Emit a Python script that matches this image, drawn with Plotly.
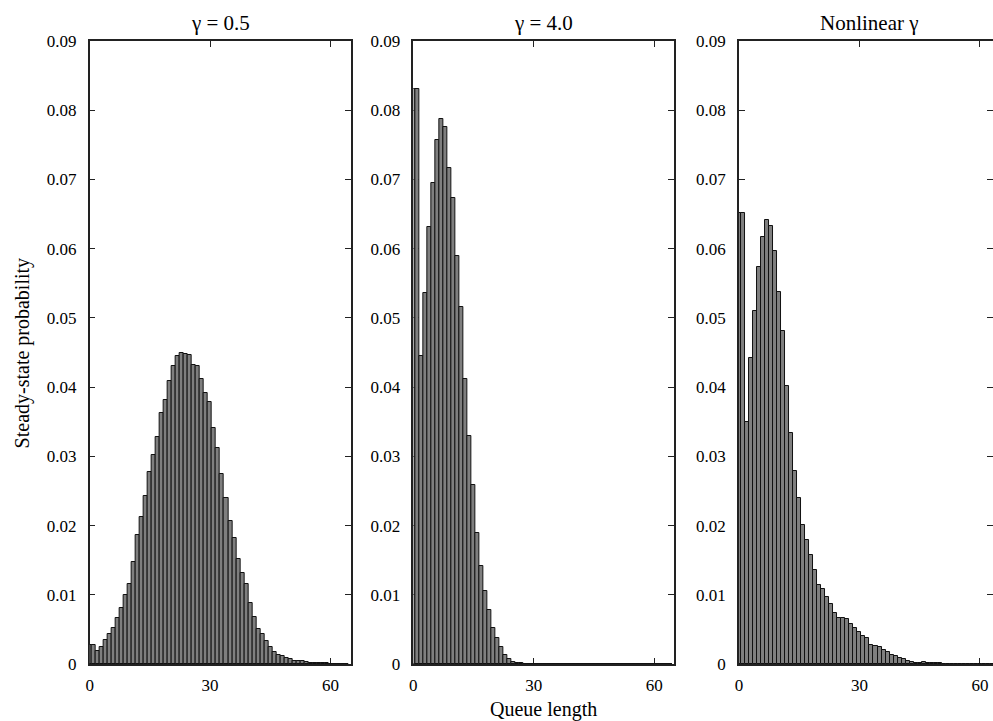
import plotly.graph_objects as go

# ---------------- data ----------------
queue_length = list(range(65))

p_gamma_05 = [
    0.0027, 0.0027, 0.0019, 0.0024, 0.0035, 0.0043, 0.0052, 0.0066, 0.0081, 0.0100,
    0.0115, 0.0147, 0.0186, 0.0213, 0.0242, 0.0278, 0.0302, 0.0328, 0.0363, 0.0382,
    0.0409, 0.0430, 0.0445, 0.0449, 0.0448, 0.0446, 0.0432, 0.0430, 0.0412, 0.0391,
    0.0378, 0.0341, 0.0312, 0.0274, 0.0240, 0.0206, 0.0182, 0.0152, 0.0131, 0.0116,
    0.0088, 0.0068, 0.0051, 0.0043, 0.0033, 0.0024, 0.0018, 0.0013, 0.0012, 0.0008,
    0.0007, 0.0005, 0.0005, 0.0004, 0.0003, 0.0002, 0.0002, 0.0001, 0.0001, 0.0001,
    0.0, 0.0, 0.0, 0.0, 0.0,
]

p_gamma_40 = [
    0.0831, 0.0831, 0.0445, 0.0536, 0.0631, 0.0695, 0.0757, 0.0788, 0.0776, 0.0716,
    0.0673, 0.0590, 0.0516, 0.0412, 0.0329, 0.0259, 0.0189, 0.0141, 0.0105, 0.0078,
    0.0052, 0.0037, 0.0025, 0.0013, 0.0007, 0.0003, 0.0002, 0.0001, 0.0, 0.0,
    0.0, 0.0, 0.0, 0.0, 0.0, 0.0, 0.0, 0.0, 0.0, 0.0,
    0.0, 0.0, 0.0, 0.0, 0.0, 0.0, 0.0, 0.0, 0.0, 0.0,
    0.0, 0.0, 0.0, 0.0, 0.0, 0.0, 0.0, 0.0, 0.0, 0.0,
    0.0, 0.0, 0.0, 0.0, 0.0,
]

p_nonlinear = [
    0.0652, 0.0652, 0.0350, 0.0442, 0.0510, 0.0573, 0.0617, 0.0641, 0.0633, 0.0597,
    0.0537, 0.0481, 0.0402, 0.0333, 0.0279, 0.0240, 0.0201, 0.0179, 0.0158, 0.0136,
    0.0114, 0.0109, 0.0097, 0.0087, 0.0073, 0.0066, 0.0067, 0.0065, 0.0058, 0.0052,
    0.0046, 0.0040, 0.0037, 0.0028, 0.0026, 0.0025, 0.0020, 0.0018, 0.0013, 0.0011,
    0.0009, 0.0007, 0.0005, 0.0003, 0.0002, 0.0002, 0.0003, 0.0002, 0.0001, 0.0001,
    0.0001, 0.0, 0.0, 0.0, 0.0, 0.0, 0.0, 0.0, 0.0, 0.0,
    0.0, 0.0, 0.0, 0.0, 0.0,
]

panel_titles = ["\u03b3 = 0.5", "\u03b3 = 4.0", "Nonlinear \u03b3"]
y_tickvals = [0, 0.01, 0.02, 0.03, 0.04, 0.05, 0.06, 0.07, 0.08, 0.09]
y_ticktext = ["0", "0.01", "0.02", "0.03", "0.04", "0.05", "0.06", "0.07", "0.08", "0.09"]
x_tickvals = [0, 30, 60]
x_ticktext = ["0", "30", "60"]
y_title = "Steady-state probability"
x_title = "Queue length"

# ---------------- figure ----------------
W, H = 993, 721
FONT = "Liberation Serif, Times New Roman, serif"
series = [p_gamma_05, p_gamma_40, p_nonlinear]
domains = [(86 / W, 348 / W), (411 / W, 673 / W), (738 / W, 1.0)]
full_range = 65.0
xranges = [[0, full_range], [0, full_range], [0, full_range * (W - 738) / 262.0]]

fig = go.Figure()
for i, vals in enumerate(series):
    suffix = "" if i == 0 else str(i + 1)
    fig.add_trace(go.Bar(
        x=queue_length, y=vals, width=1.0,
        marker=dict(color="#7f7f7f", line=dict(color="#111111", width=1)),
        xaxis="x" + suffix, yaxis="y" + suffix, showlegend=False,
        hoverinfo="x+y",
    ))
    axis_common = dict(
        showline=True, linecolor="#222222", linewidth=1.6, mirror="ticks",
        ticks="inside", ticklen=6, tickwidth=1.4, tickcolor="#222222",
        showgrid=False, zeroline=False, layer="below traces",
        tickfont=dict(family=FONT, size=17, color="black"),
    )
    fig.layout["xaxis" + suffix] = dict(
        axis_common, domain=list(domains[i]), range=xranges[i],
        tickvals=x_tickvals, ticktext=x_ticktext, anchor="y" + suffix,
        ticklabelstandoff=5,
    )
    fig.layout["yaxis" + suffix] = dict(
        axis_common, domain=[0, 1], range=[0, 0.09],
        tickvals=y_tickvals, ticktext=y_ticktext, anchor="x" + suffix,
        ticklabelstandoff=8,
    )
    fig.add_annotation(
        text=panel_titles[i], xref="x" + suffix, yref="paper",
        x=full_range / 2, y=1, yanchor="bottom", yshift=4, showarrow=False,
        font=dict(family=FONT, size=21, color="black"),
    )

# third panel runs past the page edge: keep its right-hand ticks, drop the border line
fig.layout.yaxis3.mirror = False
fig.layout.yaxis4 = dict(
    overlaying="y3", side="right", anchor="free", position=1.0,
    range=[0, 0.09], tickvals=y_tickvals, showticklabels=False,
    showline=False, ticks="inside", ticklen=6, tickwidth=1.4,
    tickcolor="#222222", showgrid=False, zeroline=False,
)
fig.add_trace(go.Scatter(x=[], y=[], xaxis="x3", yaxis="y4",
                         showlegend=False, hoverinfo="skip"))

fig.add_annotation(
    text=y_title, xref="paper", yref="paper", x=19 / W, y=0.5,
    textangle=-90, showarrow=False, xanchor="center", yanchor="middle",
    font=dict(family=FONT, size=20, color="black"),
)
fig.add_annotation(
    text=x_title, xref="x2", yref="paper", x=full_range / 2, y=0,
    yanchor="top", yshift=-32, showarrow=False,
    font=dict(family=FONT, size=20, color="black"),
)

fig.update_layout(
    width=W, height=H, bargap=0,
    margin=dict(l=0, r=0, t=41, b=57, pad=0),
    paper_bgcolor="white", plot_bgcolor="white",
    font=dict(family=FONT, color="black"),
)

fig.write_html(
    "out.html",
    config={"displayModeBar": False},
    post_script="document.body.style.margin='0';document.body.style.padding='0';document.body.style.overflow='hidden';",
)
